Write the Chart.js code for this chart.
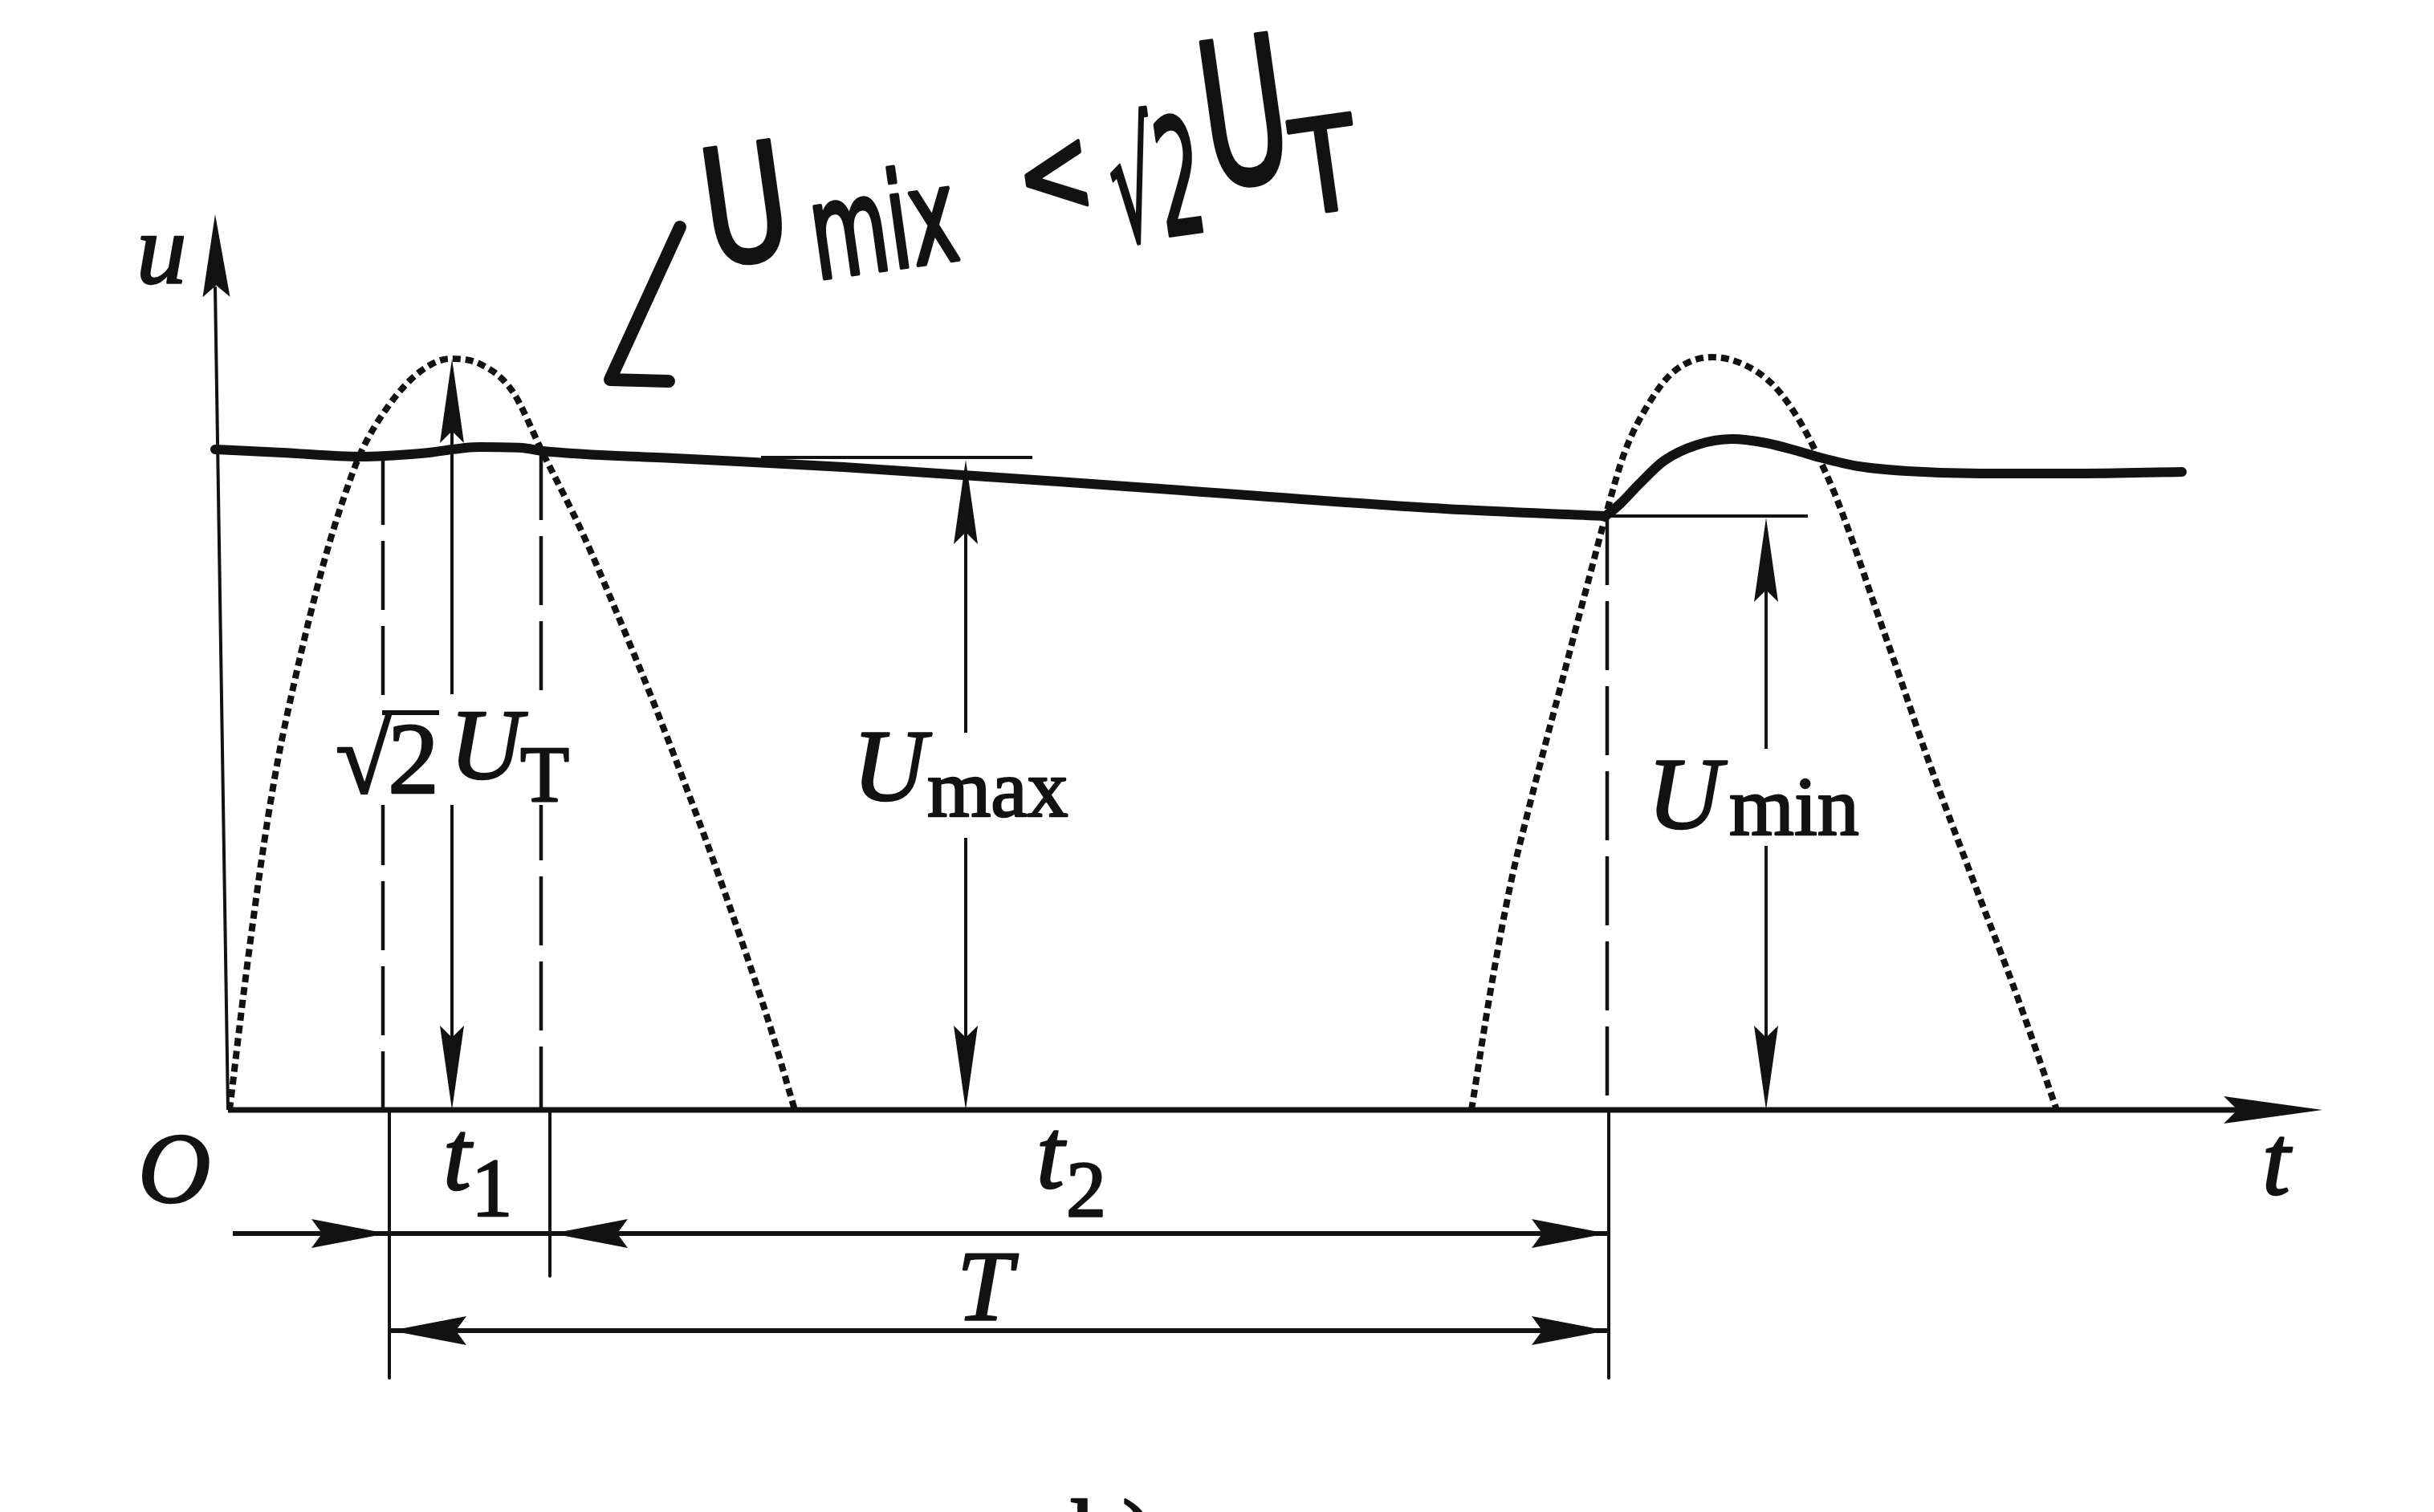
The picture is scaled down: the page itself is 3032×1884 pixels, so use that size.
<!DOCTYPE html>
<html><head><meta charset="utf-8">
<script src="https://cdn.jsdelivr.net/npm/chart.js@4.4.1/dist/chart.umd.min.js"></script>
<style>html,body{margin:0;padding:0;background:#fff;overflow:hidden}canvas{display:block}</style>
</head><body>
<canvas id="c" width="3032" height="1884"></canvas>
<script>
// ---------- data (t = time, u = voltage; both in diagram units) ----------
// rectified half-waves (dotted)
const hump1T = [0.06, 0.26, 0.49, 0.66, 0.86, 1.06, 1.27, 1.48, 1.69, 2.03, 2.42, 2.81, 3.19, 3.58, 3.96, 4.45, 4.86, 5.30, 5.71, 6.06, 6.44, 6.79, 7.10];
const hump1U = [0, 1.65, 3.33, 4.35, 5.30, 6.15, 6.95, 7.62, 8.18, 8.76, 9.19, 9.36, 9.29, 8.96, 8.19, 7.20, 6.25, 5.18, 4.12, 3.18, 2.10, 1.05, 0];
const hump2T = [15.53, 15.77, 16.02, 16.23, 16.44, 16.66, 16.84, 17.02, 17.20, 17.44, 17.75, 18.05, 18.53, 18.96, 19.32, 19.62, 19.84, 20.05, 20.29, 20.53, 20.87, 21.17, 21.50, 21.81, 22.34, 22.82];
const hump2U = [0, 1.50, 2.83, 3.70, 4.52, 5.35, 6.04, 6.72, 7.40, 8.20, 8.82, 9.20, 9.38, 9.27, 9.00, 8.58, 8.16, 7.69, 7.05, 6.35, 5.38, 4.50, 3.60, 2.78, 1.38, 0];
// capacitor voltage (thick solid): discharge then recharge
const capDecayT = [-0.12, 0.71, 1.69, 2.44, 3.18, 3.70, 3.96, 5.60, 7.71, 11.50, 15.20, 17.20];
const capDecayU = [8.23, 8.19, 8.14, 8.18, 8.26, 8.25, 8.21, 8.12, 8.01, 7.75, 7.49, 7.40];
const capChargeT = [17.20, 17.38, 17.62, 17.93, 18.35, 18.78, 19.20, 19.56, 19.87, 20.35, 20.96, 21.87, 23.08, 24.38];
const capChargeU = [7.40, 7.55, 7.80, 8.09, 8.29, 8.36, 8.31, 8.22, 8.13, 8.02, 7.96, 7.93, 7.93, 7.95];
// axes
const xAxisStartT = 0.04, xAxisTipT = 26.13;
const yAxisBaseT = 0.04, yAxisTipT = -0.12, yAxisTipU = 11.16;
// dashed vertical guides (top value -> axis)
const dashedGuideT = [1.97, 3.94, 17.22];
const dashedGuideTopU = [8.15, 8.21, 7.40];
// solid extension lines below the axis
const extensionT = [2.05, 4.05, 17.24];
const extensionBottomU = [-3.34, -2.07, -3.34];
// double-headed level arrows: sqrt2 UT, Umax, Umin
const levelArrowT = [2.83, 9.23, 19.20];
const levelArrowTopU = [9.36, 8.10, 7.38];
const levelGapLowU = [3.80, 3.39, 3.29];
const levelGapHighU = [5.18, 4.70, 4.50];
// short horizontal reference lines for Umax, Umin
const refFromT = [6.68, 17.20];
const refToT = [10.06, 19.72];
const refU = [8.13, 7.40];
// interval dimension lines (t1, t2, T)
const rowFromT = [0.10, 2.07];
const rowToT = [17.22, 17.22];
const rowU = [-1.54, -2.75];
const headT = [2.02, 4.08, 17.22, 2.07, 17.22];
const headU = [-1.54, -1.54, -1.54, -2.75, -2.75];
const headDir = [1, -1, 1, -1, 1];
// handwritten arrow
const penArrowT = [5.67, 4.80, 5.53];
const penArrowU = [11.00, 9.10, 9.08];
// printed labels
const labelText = ['u', 'O', 't', '\u221A', '2', 'U', 'T', 'U', 'max', 'U', 'min', 't', '1', 't', '2', 'T', 'b)'];
const labelT = [-1.10, -1.08, 25.38, 1.38, 2.03, 2.80, 3.68, 7.82, 8.75, 17.72, 18.74, 2.72, 3.07, 10.11, 10.48, 9.12, 10.55];
const labelU = [10.30, -1.15, -1.05, 3.95, 3.95, 4.13, 3.85, 3.86, 3.66, 3.51, 3.43, -0.99, -1.32, -0.97, -1.32, -2.62, -5.72];
const labelSize = [125, 125, 125, 128, 128, 125, 100, 127, 102, 128, 104, 125, 103, 125, 100, 124, 125];
const labelItalic = [1, 1, 1, 0, 0, 1, 0, 1, 0, 1, 0, 1, 0, 1, 0, 1, 0];
// handwritten note
const noteText = ['U', 'mix', '<', '\u221A2', 'U', 'T'];
const noteT = [6.51, 8.22, 10.35, 11.63, 12.73, 13.73];
const noteU = [11.10, 10.90, 11.55, 11.40, 12.20, 11.62];
const noteSize = [200, 165, 150, 200, 250, 160];
const noteScaleX = [0.73, 0.6, 0.75, 0.45, 0.6, 0.8];

// ---------- build datasets ----------
const INK = '#121212';
const pts = (T, U) => T.map((t, i) => ({x: t, y: U[i]}));
function line(data, width, extra) {
  return Object.assign({data, showLine: true, borderColor: INK, borderWidth: width, pointRadius: 0,
    fill: false, tension: 0, borderCapStyle: 'butt', borderJoinStyle: 'round'}, extra || {});
}
const datasets = [];
datasets.push(line(pts(hump1T, hump1U), 8, {borderDash: [10, 6], cubicInterpolationMode: 'monotone', tension: 0.4}));
datasets.push(line(pts(hump2T, hump2U), 8, {borderDash: [10, 6], cubicInterpolationMode: 'monotone', tension: 0.4}));
datasets.push(line(pts(capDecayT, capDecayU), 12, {cubicInterpolationMode: 'monotone', tension: 0.4, borderCapStyle: 'round'}));
datasets.push(line(pts(capChargeT, capChargeU), 12, {cubicInterpolationMode: 'monotone', tension: 0.4, borderCapStyle: 'round'}));
datasets.push(line([{x: xAxisStartT, y: 0}, {x: xAxisTipT - 1.0, y: 0}], 7));
datasets.push(line([{x: yAxisBaseT, y: 0}, {x: yAxisTipT, y: yAxisTipU - 0.9}], 4));
dashedGuideT.forEach((t, i) => datasets.push(line([{x: t, y: dashedGuideTopU[i]}, {x: t, y: 0}], 4.5, {borderDash: [86, 20]})));
extensionT.forEach((t, i) => datasets.push(line([{x: t, y: 0}, {x: t, y: extensionBottomU[i]}], 4)));
levelArrowT.forEach((t, i) => {
  datasets.push(line([{x: t, y: 0.5}, {x: t, y: levelGapLowU[i]}], 4));
  datasets.push(line([{x: t, y: levelGapHighU[i]}, {x: t, y: levelArrowTopU[i] - 0.5}], 4));
});
refFromT.forEach((t, i) => datasets.push(line([{x: t, y: refU[i]}, {x: refToT[i], y: refU[i]}], 4)));
rowFromT.forEach((t, i) => datasets.push(line([{x: t, y: rowU[i]}, {x: rowToT[i], y: rowU[i]}], 6)));
datasets.push(line(pts(penArrowT, penArrowU), 16, {borderCapStyle: 'round'}));

// ---------- overlay plugin: arrowheads, labels ----------
function head(ctx, x, y, dx, dy, len, hw) {
  const m = Math.hypot(dx, dy); dx /= m; dy /= m;
  const bx = x - dx * len, by = y - dy * len, nx = -dy, ny = dx, n = len * 0.14;
  ctx.beginPath(); ctx.moveTo(x, y);
  ctx.lineTo(bx + nx * hw, by + ny * hw);
  ctx.lineTo(bx + dx * n, by + dy * n);
  ctx.lineTo(bx - nx * hw, by - ny * hw);
  ctx.closePath(); ctx.fill();
}
const overlay = {
  id: 'overlay',
  afterDatasetsDraw(chart) {
    const {ctx} = chart, X = chart.scales.x, Y = chart.scales.y;
    const px = t => X.getPixelForValue(t), py = u => Y.getPixelForValue(u);
    ctx.save();
    ctx.fillStyle = INK; ctx.strokeStyle = INK; ctx.lineJoin = 'round';
    // axis heads
    head(ctx, px(xAxisTipT), py(0), 1, 0, 123, 17);
    head(ctx, px(yAxisTipT), py(yAxisTipU), px(yAxisTipT) - px(yAxisBaseT), py(yAxisTipU) - py(0), 103, 17);
    // level arrow heads
    levelArrowT.forEach((t, i) => {
      head(ctx, px(t), py(levelArrowTopU[i]), 0, -1, 105, 15);
      head(ctx, px(t), py(0), 0, 1, 105, 15);
    });
    // interval heads
    headT.forEach((t, i) => head(ctx, px(t), py(headU[i]), headDir[i], 0, 94, 18));
    // white gap behind sqrt2 UT label
    ctx.fillStyle = '#fff';
    ctx.fillRect(px(1.35), py(5.15), px(4.35) - px(1.35), py(3.80) - py(5.15));
    ctx.fillStyle = INK;
    // printed labels
    ctx.textAlign = 'left'; ctx.textBaseline = 'alphabetic'; ctx.lineWidth = 2.5;
    labelText.forEach((s, i) => {
      ctx.font = (labelItalic[i] ? 'italic ' : '') + labelSize[i] + 'px "Liberation Serif", "DejaVu Serif", serif';
      ctx.fillText(s, px(labelT[i]), py(labelU[i]));
      ctx.strokeText(s, px(labelT[i]), py(labelU[i]));
    });
    // overbar of the square root
    ctx.fillRect(px(1.96), py(4.95) - 3, px(2.67) - px(1.96), 6);
    // handwritten note
    ctx.textAlign = 'center'; ctx.textBaseline = 'middle'; ctx.lineWidth = 5;
    noteText.forEach((s, i) => {
      ctx.save();
      ctx.translate(px(noteT[i]), py(noteU[i]));
      ctx.rotate(-8 * Math.PI / 180);
      ctx.scale(noteScaleX[i], 1);
      ctx.font = noteSize[i] + 'px "DejaVu Sans", sans-serif';
      ctx.fillText(s, 0, 0);
      ctx.strokeText(s, 0, 0);
      ctx.restore();
    });
    ctx.restore();
  }
};

new Chart(document.getElementById('c'), {
  type: 'scatter',
  data: {datasets},
  options: {
    responsive: false, animation: false, devicePixelRatio: 1, events: [],
    layout: {padding: 0},
    plugins: {legend: {display: false}, tooltip: {enabled: false}},
    scales: {
      x: {type: 'linear', min: -2.80, max: 27.52, display: false},
      y: {type: 'linear', min: -5.01, max: 13.83, display: false}
    }
  },
  plugins: [overlay]
});
</script>
</body></html>
